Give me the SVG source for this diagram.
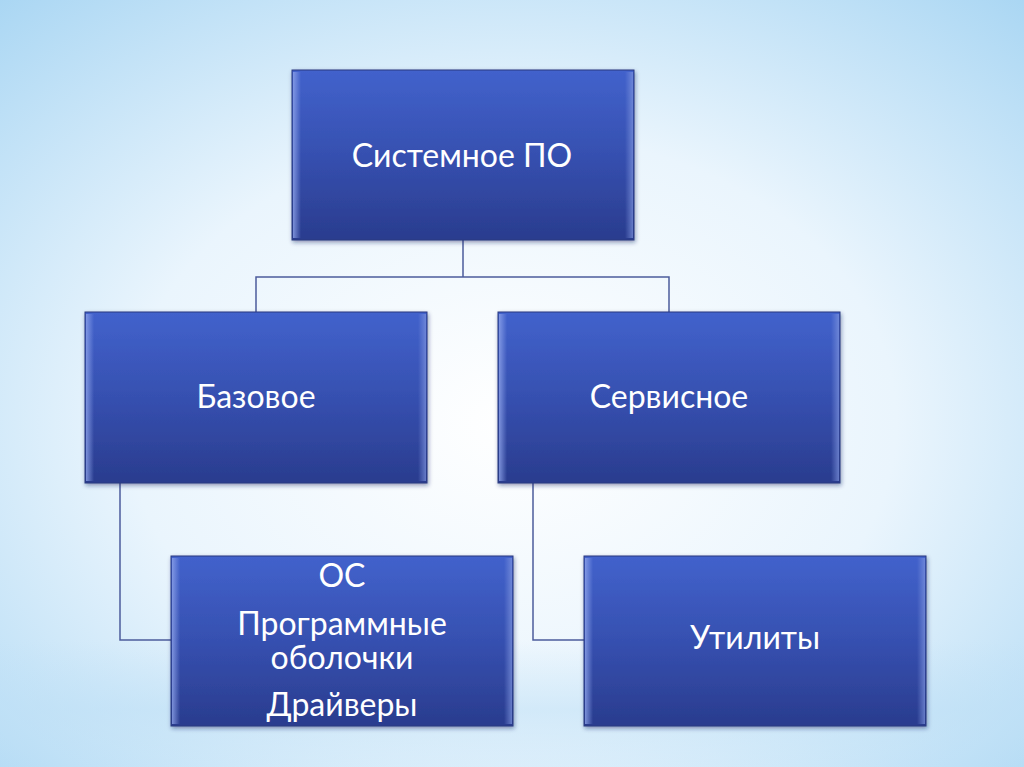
<svg xmlns="http://www.w3.org/2000/svg" width="1024" height="767" viewBox="0 0 1024 767">
<defs>
<radialGradient id="bg" cx="0.5" cy="0.55" r="0.75">
<stop offset="0" stop-color="#ffffff"/>
<stop offset="0.5" stop-color="#eaf5fd"/>
<stop offset="1" stop-color="#a9d6f3"/>
</radialGradient>
<linearGradient id="band" x1="0" y1="0" x2="0" y2="1">
<stop offset="0" stop-color="#bfe0f6" stop-opacity="0"/>
<stop offset="0.5" stop-color="#bfe0f6" stop-opacity="0.55"/>
<stop offset="1" stop-color="#bfe0f6" stop-opacity="0"/>
</linearGradient>
<linearGradient id="box" x1="0" y1="0" x2="0" y2="1">
<stop offset="0" stop-color="#4262cc"/>
<stop offset="0.5" stop-color="#3650b0"/>
<stop offset="1" stop-color="#2a3c8e"/>
</linearGradient>
<linearGradient id="bevL" x1="0" y1="0" x2="1" y2="0">
<stop offset="0" stop-color="#8fa4ea" stop-opacity="0.8"/>
<stop offset="1" stop-color="#8fa4ea" stop-opacity="0"/>
</linearGradient>
<linearGradient id="bevR" x1="1" y1="0" x2="0" y2="0">
<stop offset="0" stop-color="#7f95de" stop-opacity="0.7"/>
<stop offset="1" stop-color="#7f95de" stop-opacity="0"/>
</linearGradient>
<filter id="sh" x="-10%" y="-10%" width="120%" height="120%">
<feDropShadow dx="1" dy="2" stdDeviation="2" flood-color="#1a2660" flood-opacity="0.45"/>
</filter>
</defs>
<style>
.b{fill:url(#box);filter:url(#sh);stroke:#2a3a80;stroke-width:1}
.bl{fill:url(#bevL)}
.br{fill:url(#bevR)}
.t{font-family:Lato,"Open Sans","Noto Sans",sans-serif;font-size:32px;fill:#ffffff;text-anchor:middle}
.c{fill:none;stroke:#4c5c9c;stroke-width:1.5}
</style>
<rect width="1024" height="767" fill="url(#bg)"/>
<rect x="0" y="640" width="1024" height="140" fill="url(#band)"/>
<g id="connectors">
<path class="c" d="M463 240 V277 M256 312 V277 H669 V312"/>
<path class="c" d="M120 483 V640 H171"/>
<path class="c" d="M533 483 V640 H584"/>
</g>
<g id="n-system">
<rect class="b" x="292" y="70" width="342" height="170"/>
<rect class="bl" x="293" y="72" width="8" height="166"/>
<rect class="br" x="625" y="72" width="8" height="166"/>
<text class="t" x="462" y="167">Системное ПО</text>
</g>
<g id="n-base">
<rect class="b" x="85" y="312" width="342" height="171"/>
<rect class="bl" x="86" y="314" width="8" height="167"/>
<rect class="br" x="418" y="314" width="8" height="167"/>
<text class="t" x="256" y="408">Базовое</text>
</g>
<g id="n-service">
<rect class="b" x="498" y="312" width="342" height="171"/>
<rect class="bl" x="499" y="314" width="8" height="167"/>
<rect class="br" x="831" y="314" width="8" height="167"/>
<text class="t" x="669" y="408">Сервисное</text>
</g>
<g id="n-os">
<rect class="b" x="171" y="556" width="342" height="170"/>
<rect class="bl" x="172" y="558" width="8" height="166"/>
<rect class="br" x="504" y="558" width="8" height="166"/>
<text class="t" x="342" y="587">ОС</text>
<text class="t" x="342" y="635">Программные</text>
<text class="t" x="342" y="669">оболочки</text>
<text class="t" x="342" y="716">Драйверы</text>
</g>
<g id="n-util">
<rect class="b" x="584" y="556" width="342" height="170"/>
<rect class="bl" x="585" y="558" width="8" height="166"/>
<rect class="br" x="917" y="558" width="8" height="166"/>
<text class="t" x="755" y="649">Утилиты</text>
</g>
</svg>
